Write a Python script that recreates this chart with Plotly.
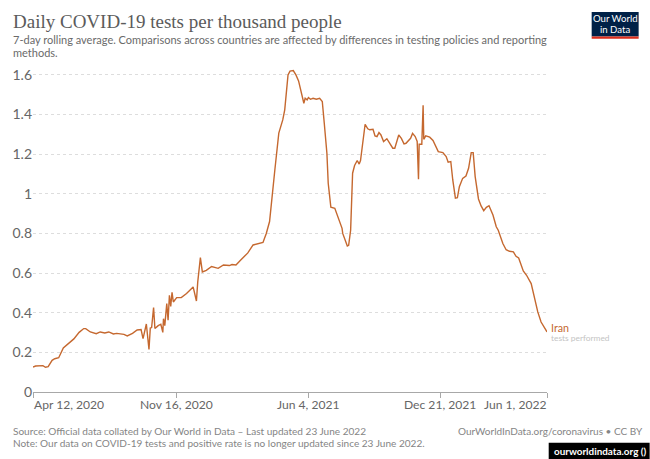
import pandas as pd
import plotly.graph_objects as go

START_DATE = "2020-04-12"
days_since_start = [0,4,15,19,23,29,33,39,46,53,62,70,77,80,87,96,102,109,115,122,127,138,143,151,158,164,167,172,176,178,180,183,185,190,194,197,198,200,203,205,207,209,211,213,218,225,233,243,248,250,254,257,263,271,281,289,298,302,308,316,326,334,341,349,354,359,367,373,379,382,387,390,395,399,403,407,411,413,416,418,421,425,430,435,439,442,446,448,452,458,464,469,470,477,479,482,485,488,492,495,497,500,504,508,511,516,519,522,525,528,532,537,541,546,549,555,559,563,566,570,573,576,580,583,585,586,590,592,593,596,602,607,612,615,622,627,630,634,637,641,644,647,652,657,661,665,668,671,676,680,684,688,692,698,703,706,713,718,723,729,733,737,744,749,756,761,766,771,776,780]
tests_per_thousand = [.126,.131,.133,.125,.128,.16,.168,.173,.222,.244,.268,.301,.32,.32,.303,.294,.303,.298,.303,.293,.296,.291,.283,.296,.313,.315,.269,.343,.215,.323,.325,.426,.32,.335,.342,.301,.37,.335,.446,.362,.488,.432,.503,.454,.476,.476,.497,.53,.459,.555,.678,.606,.614,.633,.624,.641,.638,.643,.641,.668,.702,.742,.749,.755,.80,.86,1.12,1.306,1.373,1.424,1.6,1.619,1.622,1.6,1.57,1.508,1.457,1.482,1.474,1.486,1.477,1.482,1.477,1.482,1.466,1.356,1.205,1.053,.932,.927,.877,.826,.80,.737,.74,.816,1.104,1.143,1.168,1.15,1.168,1.255,1.351,1.328,1.323,1.326,1.292,1.289,1.309,1.297,1.264,1.278,1.257,1.23,1.23,1.297,1.28,1.252,1.255,1.272,1.28,1.305,1.289,1.264,1.074,1.25,1.25,1.447,1.275,1.292,1.286,1.269,1.23,1.213,1.208,1.188,1.16,1.163,1.07,.978,.98,1.036,1.078,1.09,1.129,1.208,1.208,1.087,.974,.939,.915,.932,.94,.893,.834,.816,.749,.718,.71,.707,.685,.676,.611,.589,.547,.471,.404,.353,.328,.303]
x_tick_dates = ["2020-04-12", "2020-11-16", "2021-06-04", "2021-12-21", "2022-06-01"]
x_tick_labels = ["Apr 12, 2020", "Nov 16, 2020", "Jun 4, 2021", "Dec 21, 2021", "Jun 1, 2022"]
x_tick_anchors = ["left", "center", "center", "center", "right"]
y_tick_values = [0, 0.2, 0.4, 0.6, 0.8, 1, 1.2, 1.4, 1.6]
y_tick_labels = ["0", "0.2", "0.4", "0.6", "0.8", "1", "1.2", "1.4", "1.6"]
series_name = "Iran"
series_sublabel = "tests performed"

W, H = 650, 459
ML, MR, MT, MB = 33, 102.7, 65, 67
LINE = "#c5682f"
SANS = "Lato, Liberation Sans, Arial, sans-serif"
SERIF = "Liberation Serif, Georgia, serif"


def px(x):
    return (x - ML) / (W - ML - MR)


def py(y):
    return (H - MB - y) / (H - MT - MB)


dates = pd.Timestamp(START_DATE) + pd.to_timedelta(days_since_start, unit="D")

fig = go.Figure(go.Scatter(x=dates, y=tests_per_thousand, mode="lines", name=series_name,
                           line=dict(color=LINE, width=1.4), hoverinfo="x+y"))


def text(x, y, s, size, color, anchor="left", family=SANS, **kw):
    fig.add_annotation(x=px(x), y=py(y), xref="paper", yref="paper", text=s, showarrow=False,
                       xanchor=anchor, yanchor="middle", align=anchor,
                       font=dict(size=size, color=color, family=family), borderpad=0, **kw)


text(12, 21, "Daily COVID-19 tests per thousand people", 19, "#5b5b5b", family=SERIF)
text(12, 39.5, "7-day rolling average. Comparisons across countries are affected by differences in testing policies and reporting", 11, "#6a6a6a")
text(12, 52.5, "methods.", 11, "#6a6a6a")
text(12, 431.5, "Source: Official data collated by Our World in Data – Last updated 23 June 2022", 10.05, "#858585")
text(12, 442.5, "Note: Our data on COVID-19 tests and positive rate is no longer updated since 23 June 2022.", 10.05, "#858585")
text(644, 431.5, "OurWorldInData.org/coronavirus • CC BY", 10, "#858585", anchor="right")
text(550.5, 327, series_name, 10.7, LINE)
text(550.5, 337.5, series_sublabel, 8.4, "#c4c4c4")

for d, lab, a in zip(x_tick_dates, x_tick_labels, x_tick_anchors):
    fig.add_annotation(x=d, y=py(404), xref="x", yref="paper", text=lab, showarrow=False, xanchor=a,
                       yanchor="middle", font=dict(size=12.1, color="#666666", family=SANS), borderpad=0)

# logo and footer badge
for x0, y0, x1, y1, c in [(592, 12, 639, 36.5, "#002147"), (592, 36.5, 639, 38.7, "#dc2e1c"), (549, 442.7, 650, 459, "#000000")]:
    fig.add_shape(type="rect", xref="paper", yref="paper", x0=px(x0), x1=px(x1), y0=py(y0), y1=py(y1),
                  fillcolor=c, line_width=0, layer="above")
text(615.5, 18.5, "Our World", 9.6, "#ffffff", anchor="center")
text(615.5, 29.5, "in Data", 9.6, "#ffffff", anchor="center")
text(553, 451, "<b>ourworldindata.org ()</b>", 9.9, "#ffffff")

fig.update_layout(
    width=W, height=H, autosize=False, showlegend=False,
    margin=dict(l=ML, r=MR, t=MT, b=MB, pad=0),
    paper_bgcolor="white", plot_bgcolor="white",
    xaxis=dict(type="date", range=[x_tick_dates[0], x_tick_dates[-1]], tickmode="array", tickvals=x_tick_dates,
               ticktext=[""] * len(x_tick_dates), ticks="outside", ticklen=5, tickcolor="#a8a8a8", tickwidth=1,
               showline=True, linecolor="#a8a8a8", linewidth=1, showgrid=False, zeroline=False),
    yaxis=dict(range=[0, 1.65], tickmode="array", tickvals=y_tick_values, ticktext=y_tick_labels, ticks="",
               tickfont=dict(size=14, color="#666666", family=SANS), showgrid=True, gridcolor="#dddddd",
               griddash="3px,3px", gridwidth=1, zeroline=False, showline=False, automargin=False),
)
fig.write_html("out.html", post_script="document.body.style.margin='0';", config={"displayModeBar": False})
